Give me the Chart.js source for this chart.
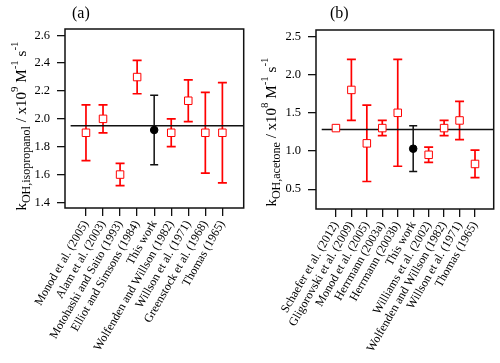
<!DOCTYPE html>
<html>
<head>
<meta charset="utf-8">
<script src="https://cdn.jsdelivr.net/npm/chart.js@4/dist/chart.umd.min.js"></script>
<style>
  html, body { margin: 0; padding: 0; background: #fff; }
  #wrap { position: relative; width: 500px; height: 363px; }
  canvas { position: absolute; top: 0; }
</style>
</head>
<body>
<div id="wrap">
  <canvas id="ca" width="250" height="363" style="left:0"></canvas>
  <canvas id="cb" width="250" height="363" style="left:250px"></canvas>
</div>
<script>
// ---------- Panel (a): isopropanol ----------
const labelsA = ['Monod et al. (2005)', 'Alam et al. (2003)', 'Motohashi and Saito (1993)',
  'Elliot and Simsons (1984)', 'This work', 'Wolfenden and Willson (1982)',
  'Willson et al. (1971)', 'Greenstock et al. (1968)', 'Thomas (1965)'];
const valuesA = [1.90, 2.00, 1.60, 2.30, 1.92, 1.90, 2.13, 1.90, 1.90];
const upperA  = [2.10, 2.10, 1.68, 2.42, 2.17, 2.00, 2.28, 2.19, 2.26];
const lowerA  = [1.70, 1.90, 1.52, 2.18, 1.67, 1.80, 1.98, 1.61, 1.54];
const meanA = 1.95;
const yTicksA = [1.4, 1.6, 1.8, 2.0, 2.2, 2.4, 2.6];
const thisWorkA = 4;

// ---------- Panel (b): acetone ----------
const labelsB = ['Schaefer et al. (2012)', 'Gligorovski et al. (2009)', 'Monod et al. (2005)',
  'Herrmann (2003a)', 'Herrmann (2003b)', 'This work', 'Williams et al. (2002)',
  'Wolfenden and Willson (1982)', 'Willson et al. (1971)', 'Thomas (1965)'];
const valuesB = [1.30, 1.80, 1.10, 1.30, 1.50, 1.03, 0.95, 1.30, 1.40, 0.83];
const upperB  = [null, 2.20, 1.60, 1.40, 2.20, 1.33, 1.05, 1.40, 1.65, 1.01];
const lowerB  = [null, 1.40, 0.60, 1.20, 0.80, 0.73, 0.85, 1.20, 1.15, 0.65];
const meanB = 1.28;
const yTicksB = [0.5, 1.0, 1.5, 2.0, 2.5];
const thisWorkB = 5;

const SERIF = '"Liberation Serif", "DejaVu Serif", serif';
const RED = '#ff0000';

// error bars + frame + titles plugin
const decorPlugin = {
  id: 'decor',
  beforeDatasetsDraw(chart) {
    const ctx = chart.ctx, xs = chart.scales.x, ys = chart.scales.y;
    chart.data.datasets.forEach(ds => {
      if (!ds.errUpper) return;
      ctx.save();
      ctx.strokeStyle = ds.errColor;
      ctx.lineWidth = ds.errWidth;
      ds.data.forEach((p, i) => {
        const hi = ds.errUpper[i], lo = ds.errLower[i];
        if (hi == null || lo == null) return;
        const x = xs.getPixelForValue(p.x);
        const y1 = ys.getPixelForValue(hi), y2 = ys.getPixelForValue(lo);
        const c = ds.capWidth / 2;
        ctx.beginPath();
        ctx.moveTo(x, y1); ctx.lineTo(x, y2);
        ctx.moveTo(x - c, y1); ctx.lineTo(x + c, y1);
        ctx.moveTo(x - c, y2); ctx.lineTo(x + c, y2);
        ctx.stroke();
      });
      ctx.restore();
    });
  },
  afterDraw(chart) {
    const ctx = chart.ctx, a = chart.chartArea;
    const o = chart.options.plugins.decor;
    ctx.save();
    ctx.strokeStyle = '#111';
    ctx.lineWidth = 1.5;
    ctx.strokeRect(a.left, a.top, a.right - a.left, a.bottom - a.top);
    // panel tag
    ctx.fillStyle = '#000';
    ctx.font = '16px ' + SERIF;
    ctx.textBaseline = 'alphabetic';
    ctx.textAlign = 'left';
    ctx.fillText(o.tag, o.tagX, o.tagY);
    // rotated y title with sub/superscripts
    const parts = o.yTitle;
    const sizes = { n: 15, sub: 12, sup: 11 };
    const shift = { n: 0, sub: 4, sup: -8 };
    let total = 0;
    parts.forEach(p => { ctx.font = sizes[p[1]] + 'px ' + SERIF; total += ctx.measureText(p[0]).width; });
    ctx.translate(o.titleX, o.titleCY);
    ctx.rotate(-Math.PI / 2);
    let x = -total / 2;
    parts.forEach(p => {
      ctx.font = sizes[p[1]] + 'px ' + SERIF;
      ctx.fillText(p[0], x, shift[p[1]]);
      x += ctx.measureText(p[0]).width;
    });
    ctx.restore();
  }
};

function makeChart(id, labels, values, upper, lower, mean, yTicks, tw, yMin, yMax, xMin, xMax, meanStart, padTop, xAxisH, yAxisW, padRight, deco) {
  const lit = [], litHi = [], litLo = [];
  labels.forEach((l, i) => {
    if (i !== tw) { lit.push({ x: i, y: values[i] }); litHi.push(upper[i]); litLo.push(lower[i]); }
  });
  return new Chart(document.getElementById(id), {
    type: 'scatter',
    data: {
      datasets: [
        {
          data: [{ x: tw, y: values[tw] }],
          pointStyle: 'circle', pointRadius: 3.8, pointBackgroundColor: '#000', pointBorderColor: '#000',
          errUpper: [upper[tw]], errLower: [lower[tw]], errColor: '#111', errWidth: 1.5, capWidth: 8
        },
        {
          data: lit,
          pointStyle: 'rect', pointRadius: 5.3, pointBackgroundColor: '#fff', pointBorderColor: RED, pointBorderWidth: 1,
          errUpper: litHi, errLower: litLo, errColor: RED, errWidth: 1.7, capWidth: 9
        },
        {
          type: 'line',
          data: [{ x: meanStart, y: mean }, { x: xMax, y: mean }],
          borderColor: '#111', borderWidth: 1.5, pointRadius: 0, fill: false
        }
      ]
    },
    options: {
      responsive: false, animation: false, devicePixelRatio: 1,
      layout: { padding: { top: padTop, right: padRight, left: 0, bottom: 0 } },
      plugins: { legend: { display: false }, tooltip: { enabled: false }, decor: deco },
      scales: {
        x: {
          type: 'linear', min: xMin, max: xMax,
          afterBuildTicks: s => { s.ticks = labels.map((_, i) => ({ value: i })); },
          afterFit: s => { s.height = xAxisH; s.paddingLeft = 0; s.paddingRight = 0; },
          ticks: {
            autoSkip: false, minRotation: 60, maxRotation: 60, padding: 2,
            color: '#000', font: { family: SERIF, size: 12 },
            callback: v => labels[v] ?? ''
          },
          grid: { drawOnChartArea: false, drawTicks: true, tickLength: 8, color: '#111', lineWidth: 1.3 },
          border: { display: false }
        },
        y: {
          min: yMin, max: yMax,
          afterBuildTicks: s => { s.ticks = yTicks.map(v => ({ value: v })); },
          afterFit: s => { s.width = yAxisW; s.paddingTop = 0; s.paddingBottom = 0; },
          ticks: {
            padding: 7, color: '#000', font: { family: SERIF, size: 12.5 },
            callback: v => Number(v).toFixed(1)
          },
          grid: { drawOnChartArea: false, drawTicks: true, tickLength: 8, color: '#111', lineWidth: 1.3 },
          border: { display: false }
        }
      }
    },
    plugins: [decorPlugin]
  });
}

makeChart('ca', labelsA, valuesA, upperA, lowerA, meanA, yTicksA, thisWorkA,
  1.36, 2.645, -1.23, 9.25, -0.9, 29, 155, 65, 6,
  { tag: '(a)', tagX: 72, tagY: 18, titleX: 26, titleCY: 126,
    yTitle: [['k', 'n'], ['OH,isopropanol', 'sub'], [' / x10', 'n'], ['9', 'sup'], [' M', 'n'], ['-1', 'sup'], [' s', 'n'], ['-1', 'sup']] });

makeChart('cb', labelsB, valuesB, upperB, lowerB, meanB, yTicksB, thisWorkB,
  0.24, 2.585, -1.29, 10.21, -0.92, 30, 154, 66, 6,
  { tag: '(b)', tagX: 80, tagY: 18, titleX: 26, titleCY: 132,
    yTitle: [['k', 'n'], ['OH,acetone', 'sub'], [' / x10', 'n'], ['8', 'sup'], [' M', 'n'], ['-1', 'sup'], [' s', 'n'], ['-1', 'sup']] });
</script>
</body>
</html>
